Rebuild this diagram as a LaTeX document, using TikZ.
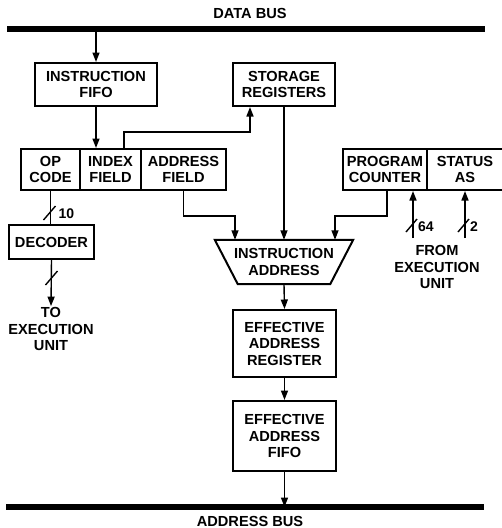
\documentclass[tikz,border=0pt]{standalone}
\usepackage{fontspec}
\setmainfont{Liberation Sans}
\usetikzlibrary{arrows.meta,calc}
\begin{document}
\begin{tikzpicture}[x=1pt,y=-1pt,
  every node/.style={font=\bfseries\fontsize{14.6}{16.5}\selectfont, align=center, inner sep=0pt},
  blk/.style={draw, line width=2pt},
  arr/.style={line width=1.4pt, -{Triangle[length=9.5pt,width=7pt]}},
  wire/.style={line width=1.4pt},
  bus/.style={line width=5.5pt},
  lbl/.style={font=\bfseries\fontsize{14}{15}\selectfont}
]
\useasboundingbox (0,0) rectangle (502,528);

% buses
\draw[bus] (7,29) coordinate (dbl) -- (485,29) coordinate (dbr);
\node (dbus) at (250,13) {DATA BUS};
\draw[bus] (6,507) coordinate (abl) -- (484,507) coordinate (abr);
\node (abus) at (250,521) {ADDRESS BUS};

% blocks
\node[blk, minimum width=122pt, minimum height=43pt] (fifo) at (96,84.5) {INSTRUCTION\\FIFO};
\node[blk, minimum width=102pt, minimum height=43pt] (stor) at (284,84.5) {STORAGE\\REGISTERS};
\node[blk, minimum width=59pt, minimum height=41pt] (op) at (50.5,169.5) {OP\\CODE};
\node[blk, minimum width=61pt, minimum height=41pt] (idx) at (110.5,169.5) {INDEX\\FIELD};
\node[blk, minimum width=85pt, minimum height=41pt] (adr) at (183.5,169.5) {ADDRESS\\FIELD};
\node[blk, minimum width=84pt, minimum height=41pt] (pc) at (385,169.5) {PROGRAM\\COUNTER};
\node[blk, minimum width=76pt, minimum height=41pt] (st) at (465,169.5) {STATUS\\AS};
\node[blk, minimum width=85pt, minimum height=34pt] (dec) at (51.5,242) {DECODER};
\node[minimum width=138pt, minimum height=44pt] (ia) at (284,262) {INSTRUCTION\\ADDRESS};
\draw[line width=2pt] (ia.north west) -- (ia.north east) -- ([xshift=-23pt]ia.south east) -- ([xshift=23pt]ia.south west) -- cycle;
\node[blk, minimum width=103pt, minimum height=67pt] (ear) at (284.5,343.5) {EFFECTIVE\\ADDRESS\\REGISTER};
\node[blk, minimum width=103pt, minimum height=70pt] (eaf) at (284.5,436) {EFFECTIVE\\ADDRESS\\FIFO};
\node (toeu) at (51,329) {TO\\EXECUTION\\UNIT};
\node (fromeu) at (437,267) {FROM\\EXECUTION\\UNIT};

% connectors
\draw[arr] (fifo.north |- dbl) -- (fifo.north);
\draw[arr] (fifo.south) -- (fifo.south |- idx.north);
\coordinate (sr) at ([xshift=-34pt]stor.south);
\draw[arr] ([xshift=13.5pt]idx.north) |- ($(sr)+(0,25)$) -- (sr);
\draw[arr] (stor.south) -- (stor.south |- ia.north);
\coordinate (ia1) at ([xshift=-49pt]ia.north);
\coordinate (ia3) at ([xshift=51pt]ia.north);
\draw[arr] (adr.south) |- ($(ia1)+(0,-24)$) -- (ia1);
\draw[arr] ([xshift=2pt]pc.south) |- ($(ia3)+(0,-24)$) -- (ia3);
\draw[arr] (ia.south) -- (ear.north);
\draw[arr] (ear.south) -- (eaf.north);
\draw[arr] (eaf.south) -- (eaf.south |- abl);

% opcode -> decoder (10 bits)
\draw[wire] (op.south) -- (op.south |- dec.north);
\coordinate (s1) at ($(op.south)+(0,22)$);
\draw[wire] ($(s1)+(-7,7)$) -- ($(s1)+(5,-7)$);
\node[lbl, anchor=west] (l10) at ($(s1)+(8,1)$) {10};

% decoder -> execution unit
\draw[arr] (dec.south) -- ($(toeu.north)+(0,-1)$);
\coordinate (s2) at ($(dec.south)+(0,18)$);
\draw[wire] ($(s2)+(-6,7)$) -- ($(s2)+(6,-7)$);

% from execution unit
\coordinate (f1) at (413,238);
\coordinate (f2) at (465,238);
\draw[arr] (f1) -- (f1 |- pc.south);
\draw[arr] (f2) -- (f2 |- st.south);
\coordinate (s3) at (413,226);
\coordinate (s4) at (465,226);
\draw[wire] ($(s3)+(-7,6)$) -- ($(s3)+(4,-7)$);
\draw[wire] ($(s4)+(-7,6)$) -- ($(s4)+(4,-7)$);
\node[lbl, anchor=west] (l64) at ($(s3)+(5,1)$) {64};
\node[lbl, anchor=west] (l2) at ($(s4)+(5,1)$) {2};
\end{tikzpicture}
\end{document}
